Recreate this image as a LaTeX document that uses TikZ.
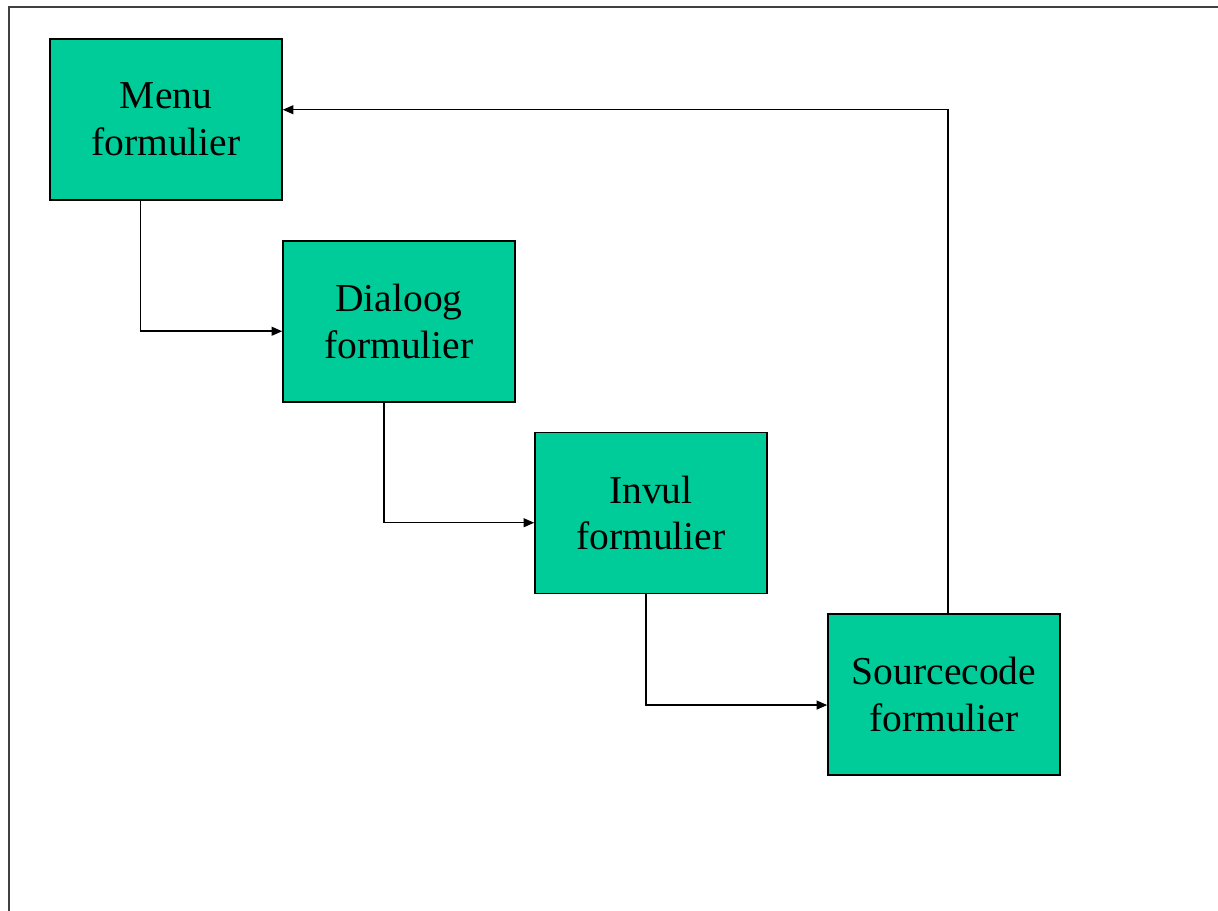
\documentclass[tikz,border=0pt]{standalone}
\usepackage{fontspec}
\setmainfont{Liberation Serif}
\usetikzlibrary{calc,arrows.meta}
\definecolor{formgreen}{RGB}{0,204,153}
\tikzset{form/.style={draw,fill=formgreen,line width=0.9pt,minimum width=4.64cm,minimum height=3.22cm,
    align=center,font=\fontsize{22.5}{26.6}\selectfont},
  link/.style={-{Triangle[length=6pt,width=5pt]},line width=0.85pt}}

\begin{document}
\begin{tikzpicture}[x=0.02cm,y=-0.02cm]
    \useasboundingbox (0,0) rectangle (1218,911);
    \draw[line width=1.1pt,black!75] (9,911) -- (9,7) -- (1218,7);
    \node[form] (menu) at (166,119.5) {Menu\\formulier};
    \node[form] (dialoog) at (399,321.5) {Dialoog\\formulier};
    \node[form] (invul) at (651,513) {Invul\\formulier};
    \node[form] (source) at (944,694.5) {Sourcecode\\formulier};
    \draw[link] ($(menu.south west)!0.39!(menu.south east)$) |- ($(dialoog.north west)!0.56!(dialoog.south west)$);
    \draw[link] ($(dialoog.south west)!0.435!(dialoog.south east)$) |- ($(invul.north west)!0.56!(invul.south west)$);
    \draw[link] ($(invul.south west)!0.478!(invul.south east)$) |- ($(source.north west)!0.565!(source.south west)$);
    \draw[link] ($(source.north west)!0.517!(source.north east)$) |- ($(menu.north east)!0.44!(menu.south east)$);
  \end{tikzpicture}
\end{document}
